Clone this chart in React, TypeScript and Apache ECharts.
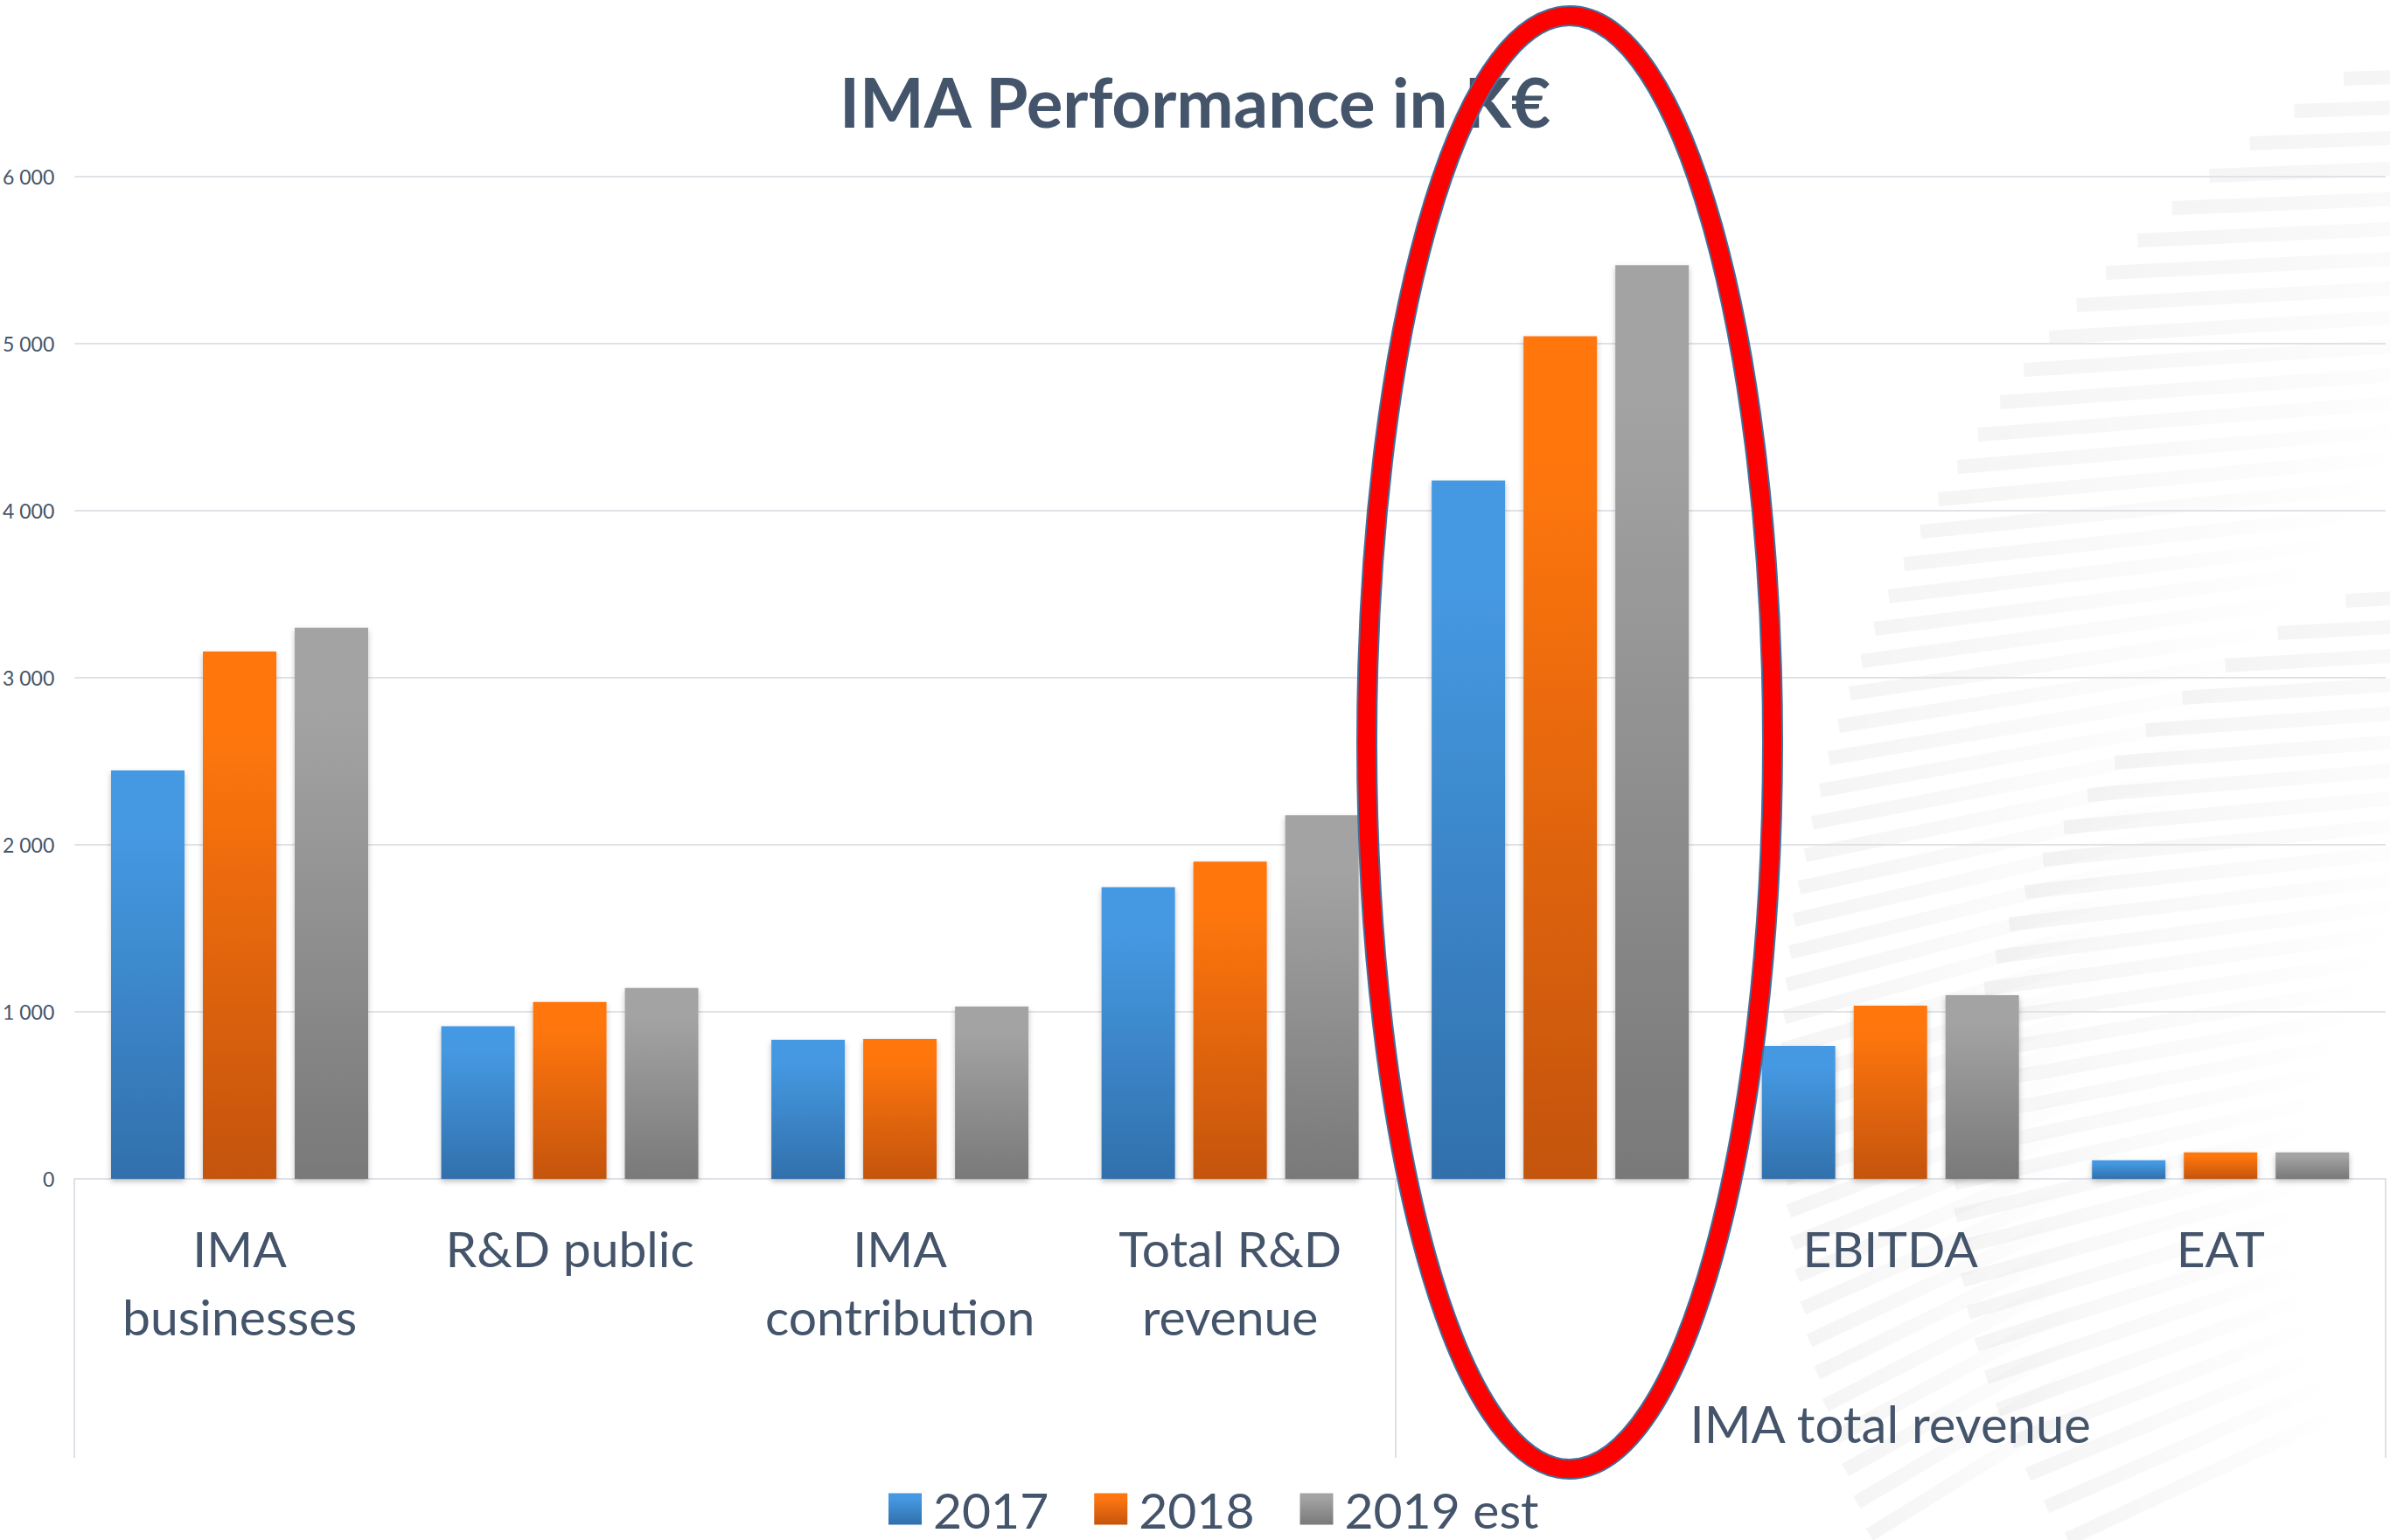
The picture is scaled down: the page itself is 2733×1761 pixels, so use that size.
import React, { useEffect, useRef } from 'react';
import * as echarts from 'echarts';

const titleText = 'IMA Performance in K€';
const categories = ['IMA\nbusinesses', 'R&D public', 'IMA\ncontribution', 'Total R&D\nrevenue', '', 'EBITDA', 'EAT'];
const seriesNames = ['2017', '2018', '2019 est'];
const values2017 = [2445, 913, 833, 1746, 4180, 796, 111];
const values2018 = [3157, 1059, 838, 1899, 5045, 1037, 159];
const values2019 = [3300, 1143, 1032, 2177, 5470, 1099, 159];
const groupBoundaries = [0, 4, 7];
const groupLabelPositions = [5.5];
const groupLabelTexts = ['IMA total revenue'];

const TEXT = '#44546A';
const FONT = 'Lato, "Open Sans", sans-serif';
const W = 2733;
const H = 1761;

const grad = (top: string, bottom: string) => ({
  type: 'linear', x: 0, y: 0, x2: 0, y2: 1,
  colorStops: [
    { offset: 0, color: top },
    { offset: 0.15, color: top },
    { offset: 1, color: bottom },
  ],
});

const palette = [
  grad('#4599E2', '#3170AC'),
  grad('#FF7611', '#C4540C'),
  grad('#A3A3A3', '#797979'),
];

// faint decorative background stripes (slide background), not data
const stripeSets = [
  { cx: 3396, cy: 1244, r: 1358, yStart: 90, yEnd: 1761, step: 37, tilt0: 2, tiltGain: 30, len0: 650, len1: 300 },
  { cx: 2950, cy: 1350, r: 715, yStart: 650, yEnd: 1761, step: 37, tilt0: 3, tiltGain: 22, len0: 600, len1: 350 },
];

function buildStripes() {
  const out: any[] = [];
  stripeSets.forEach((s) => {
    for (let y = s.yStart; y <= s.yEnd; y += s.step) {
      const dy = y - s.cy;
      if (Math.abs(dy) >= s.r) continue;
      const x = s.cx - Math.sqrt(s.r * s.r - dy * dy);
      if (x > W) continue;
      const frac = (y - s.yStart) / (s.yEnd - s.yStart);
      const tilt = ((s.tilt0 + s.tiltGain * Math.pow(frac, 1.8)) * Math.PI) / 180;
      const len = s.len0 + (s.len1 - s.len0) * frac;
      out.push({
        type: 'line',
        z: -10,
        silent: true,
        shape: { x1: x, y1: y, x2: x + len * Math.cos(tilt), y2: y - len * Math.sin(tilt) },
        style: {
          lineWidth: 16,
          stroke: {
            type: 'linear', x: 0, y: 0, x2: 1, y2: 0,
            colorStops: [
              { offset: 0, color: 'rgba(0,0,0,0.04)' },
              { offset: 0.45, color: 'rgba(0,0,0,0.022)' },
              { offset: 1, color: 'rgba(0,0,0,0)' },
            ],
          },
        },
      });
    }
  });
  return out;
}

export default function App() {
  const ref = useRef<HTMLDivElement>(null);
  useEffect(() => {
    document.body.style.margin = '0';
    const chart = echarts.init(ref.current!, null, { renderer: 'svg' });
    const data = [values2017, values2018, values2019];
    chart.setOption({
      animation: false,
      backgroundColor: '#FFFFFF',
      textStyle: { fontFamily: FONT },
      title: {
        text: titleText,
        left: 'center',
        top: 72,
        textStyle: { fontFamily: FONT, fontSize: 78, fontWeight: 'bold', color: TEXT },
      },
      legend: {
        left: 1011,
        top: 1692,
        itemWidth: 38,
        itemHeight: 36,
        itemGap: 52,
        icon: 'rect',
        data: seriesNames,
        textStyle: { fontFamily: FONT, fontSize: 57, color: TEXT, padding: [0, 0, 0, 8] },
      },
      grid: { left: 85, right: 5, top: 202, bottom: 413, containLabel: false },
      xAxis: [
        {
          type: 'category',
          data: categories,
          axisLine: { show: true, lineStyle: { color: '#DDE1E7', width: 2 } },
          axisTick: { show: false },
          axisLabel: {
            interval: 0,
            margin: 40,
            fontFamily: FONT,
            fontSize: 57,
            lineHeight: 78,
            color: TEXT,
          },
          splitLine: { show: false },
        },
        {
          type: 'value',
          position: 'bottom',
          min: 0,
          max: 7,
          interval: 0.5,
          axisLine: { show: false },
          splitLine: { show: false },
          axisTick: {
            show: true,
            customValues: groupBoundaries,
            length: 319,
            lineStyle: { color: '#DDE1E7', width: 2 },
          },
          axisLabel: {
            customValues: groupLabelPositions,
            margin: 240,
            fontFamily: FONT,
            fontSize: 58,
            lineHeight: 78,
            color: TEXT,
            formatter: (v: number) => {
              const i = groupLabelPositions.indexOf(v);
              return i >= 0 ? groupLabelTexts[i] : '';
            },
          },
        },
      ],
      yAxis: {
        type: 'value',
        min: 0,
        max: 6000,
        interval: 1000,
        axisLine: { show: false },
        axisTick: { show: false },
        axisLabel: {
          margin: 23,
          fontFamily: FONT,
          fontSize: 23,
          color: TEXT,
          formatter: (v: number) => String(v).replace(/\B(?=(\d{3})+(?!\d))/g, ' '),
        },
        splitLine: { lineStyle: { color: '#DFE3E8', width: 2 } },
      },
      series: seriesNames.map((name, i) => ({
        name,
        type: 'bar',
        data: data[i],
        barWidth: 84,
        barGap: '25%',
        itemStyle: {
          color: palette[i],
          shadowColor: 'rgba(0,0,0,0.25)',
          shadowBlur: 6,
          shadowOffsetY: 3,
        },
      })),
      graphic: [
        ...buildStripes(),
        {
          type: 'ellipse',
          z: 100,
          shape: { cx: 1795, cy: 849, rx: 232, ry: 831 },
          style: { fill: 'none', stroke: '#41719C', lineWidth: 24 },
        },
        {
          type: 'ellipse',
          z: 101,
          shape: { cx: 1795, cy: 849, rx: 232, ry: 831 },
          style: { fill: 'none', stroke: '#FF0000', lineWidth: 20 },
        },
      ],
    });
    return () => chart.dispose();
  }, []);
  return <div ref={ref} style={{ width: W, height: H }} />;
}
